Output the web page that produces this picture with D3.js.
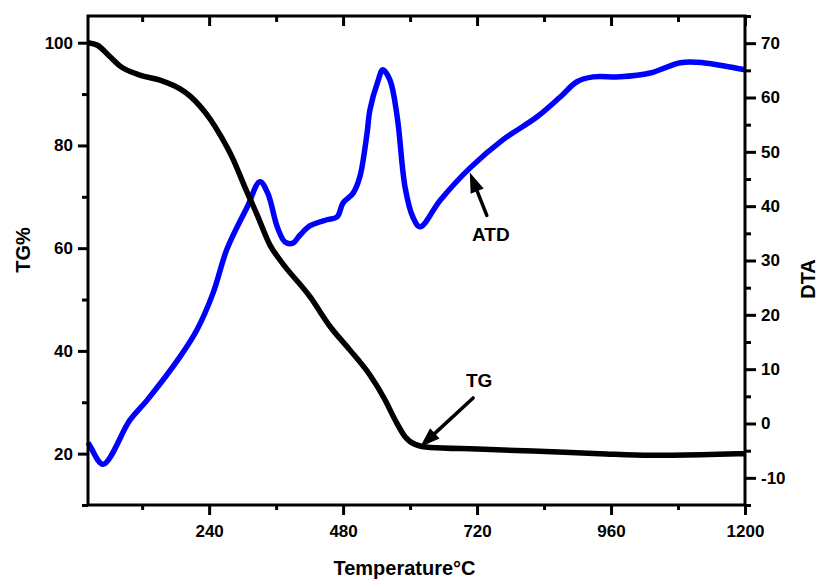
<!DOCTYPE html>
<html>
<head>
<meta charset="utf-8">
<script src="https://cdn.jsdelivr.net/npm/d3@7"></script>
<style>
  body { margin: 0; background: #fff; }
  text { font-family: Arial, "Liberation Sans", sans-serif; font-weight: bold; fill: #000; }
</style>
</head>
<body>
<div id="chart"></div>
<script>
// --- Data ---
const tgTemp = [23, 40, 62, 80, 116, 152, 188, 206, 224, 242, 260, 283, 304, 326, 349, 367, 421, 457, 492, 528, 555, 573, 591, 609, 636, 720, 820, 940, 1030, 1120, 1200];
const tgValue = [100, 99.5, 97.3, 95.5, 93.7, 92.7, 91.0, 89.6, 87.6, 85.1, 82.0, 77.3, 71.9, 66.5, 60.6, 57.7, 50.5, 44.7, 40.2, 35.3, 30.5, 26.6, 23.3, 21.8, 21.2, 20.9, 20.5, 20.0, 19.7, 19.8, 20.0];

const dtaTemp = [23, 27, 50, 98, 129, 188, 218, 247, 272, 308, 331, 345, 362, 376, 390, 403, 421, 451, 469, 480, 498, 510, 523, 528, 543, 551, 564, 577, 591, 605, 618, 654, 707, 766, 827, 869, 899, 928, 976, 1030, 1084, 1125, 1173, 1200];
const dtaValue = [-3.5, -4.2, -7.5, 0.6, 4.3, 12.3, 17.2, 24.0, 32.1, 39.8, 44.5, 42.4, 36.2, 33.4, 33.2, 34.7, 36.4, 37.5, 38.0, 40.6, 42.4, 45.4, 53.5, 57.7, 63.2, 65.1, 63.2, 56.4, 43.5, 38.0, 36.2, 41.1, 47.0, 52.2, 56.4, 60.1, 62.9, 63.8, 63.8, 64.5, 66.4, 66.4, 65.6, 65.1];

const xMajorTicks = [240, 480, 720, 960, 1200];
const xMinorTicks = [120, 360, 600, 840, 1080];
const tgMajorTicks = [20, 40, 60, 80, 100];
const tgMinorTicks = [10, 30, 50, 70, 90];
const dtaMajorTicks = [-10, 0, 10, 20, 30, 40, 50, 60, 70];
const dtaMinorTicks = [-15, -5, 5, 15, 25, 35, 45, 55, 65, 75];

// --- Sizes ---
const width = 820, height = 580;
const margin = { top: 16, right: 75, bottom: 75, left: 88 };
const innerW = width - margin.left - margin.right;
const innerH = height - margin.top - margin.bottom;

const svg = d3.select("#chart").append("svg")
    .attr("width", width)
    .attr("height", height);

const g = svg.append("g").attr("transform", `translate(${margin.left},${margin.top})`);

// --- Scales ---
const x = d3.scaleLinear().domain([23, 1200]).range([0, innerW]);
const yTG = d3.scaleLinear().domain([10, 105.2]).range([innerH, 0]);
const yDTA = d3.scaleLinear().domain([-15, 75]).range([innerH, 0]);

const plain = d => String(d); // no thousands comma, plain hyphen minus

// --- Axes helper: draw an axis, thick ticks ---
const drawAxis = (axis, transform) => {
    const a = g.append("g").attr("transform", transform).call(axis);
    a.select(".domain").remove();
    a.selectAll("line").attr("stroke", "#000").attr("stroke-width", 3);
    a.attr("font-size", null).attr("font-family", null);
    a.selectAll("text")
        .style("font-size", "17px")
        .style("font-family", "Arial, 'Liberation Sans', sans-serif")
        .style("font-weight", "bold");
    return a;
};

// bottom
drawAxis(d3.axisBottom(x).tickValues(xMajorTicks).tickSize(10).tickPadding(10).tickFormat(plain), `translate(0,${innerH})`);
drawAxis(d3.axisBottom(x).tickValues(xMinorTicks).tickSize(5).tickFormat(""), `translate(0,${innerH})`);
// top (inward ticks, no labels)
drawAxis(d3.axisBottom(x).tickValues(xMajorTicks).tickSize(10).tickFormat(""), `translate(0,0)`);
drawAxis(d3.axisBottom(x).tickValues(xMinorTicks).tickSize(6).tickFormat(""), `translate(0,0)`);
// left
drawAxis(d3.axisLeft(yTG).tickValues(tgMajorTicks).tickSize(10).tickPadding(5).tickFormat(plain), `translate(0,0)`);
drawAxis(d3.axisLeft(yTG).tickValues(tgMinorTicks).tickSize(6).tickFormat(""), `translate(0,0)`);
// right
drawAxis(d3.axisRight(yDTA).tickValues(dtaMajorTicks).tickSize(11).tickPadding(5).tickFormat(plain), `translate(${innerW},0)`);
drawAxis(d3.axisRight(yDTA).tickValues(dtaMinorTicks).tickSize(6).tickFormat(""), `translate(${innerW},0)`);

// --- Curves ---
const tgData = tgTemp.map((t, i) => ({ t, v: tgValue[i] }));
const dtaData = dtaTemp.map((t, i) => ({ t, v: dtaValue[i] }));

g.append("path")
    .datum(dtaData)
    .attr("fill", "none")
    .attr("stroke", "#0000ff")
    .attr("stroke-width", 5.5)
    .attr("stroke-linejoin", "round")
    .attr("d", d3.line().x(d => x(d.t)).y(d => yDTA(d.v)).curve(d3.curveCatmullRom.alpha(0.5)));

g.append("path")
    .datum(tgData)
    .attr("fill", "none")
    .attr("stroke", "#000")
    .attr("stroke-width", 5.5)
    .attr("stroke-linejoin", "round")
    .attr("d", d3.line().x(d => x(d.t)).y(d => yTG(d.v)).curve(d3.curveMonotoneX));

// --- Frame ---
g.append("rect")
    .attr("x", 0).attr("y", 0)
    .attr("width", innerW).attr("height", innerH)
    .attr("fill", "none")
    .attr("stroke", "#000")
    .attr("stroke-width", 3);

// --- Annotations (arrow with filled head) ---
const arrow = (x1, y1, x2, y2) => {
    const ang = Math.atan2(y2 - y1, x2 - x1);
    const headLen = 20, headW = 7;
    const bx = x2 - headLen * Math.cos(ang), by = y2 - headLen * Math.sin(ang);
    g.append("line")
        .attr("x1", x1).attr("y1", y1).attr("x2", bx).attr("y2", by)
        .attr("stroke", "#000").attr("stroke-width", 3.5).attr("stroke-linecap", "round");
    const pts = [
        [x2, y2],
        [bx + headW * Math.sin(ang), by - headW * Math.cos(ang)],
        [bx - headW * Math.sin(ang), by + headW * Math.cos(ang)]
    ];
    g.append("polygon").attr("points", pts.map(p => p.join(",")).join(" ")).attr("fill", "#000");
};

// TG label
const tgTipX = x(618), tgTipY = yTG(21.3);
arrow(tgTipX + 53, tgTipY - 49, tgTipX, tgTipY);
g.append("text").attr("x", tgTipX + 59).attr("y", tgTipY - 60)
    .attr("text-anchor", "middle").style("font-size", "19px").text("TG");

// ATD label
const atdTipX = x(707), atdTipY = yDTA(46.2);
arrow(atdTipX + 17, atdTipY + 43, atdTipX, atdTipY);
g.append("text").attr("x", atdTipX + 21).attr("y", atdTipY + 69)
    .attr("text-anchor", "middle").style("font-size", "19px").text("ATD");

// --- Axis titles ---
svg.append("text")
    .attr("transform", `translate(30,250) rotate(-90)`)
    .attr("text-anchor", "middle")
    .style("font-size", "20px")
    .text("TG%");

svg.append("text")
    .attr("transform", `translate(815,279) rotate(-90)`)
    .attr("text-anchor", "middle")
    .style("font-size", "20px")
    .text("DTA");

svg.append("text")
    .attr("x", margin.left + innerW / 2 - 12)
    .attr("y", 575)
    .attr("text-anchor", "middle")
    .style("font-size", "20px")
    .text("Temperature°C");
</script>
</body>
</html>
